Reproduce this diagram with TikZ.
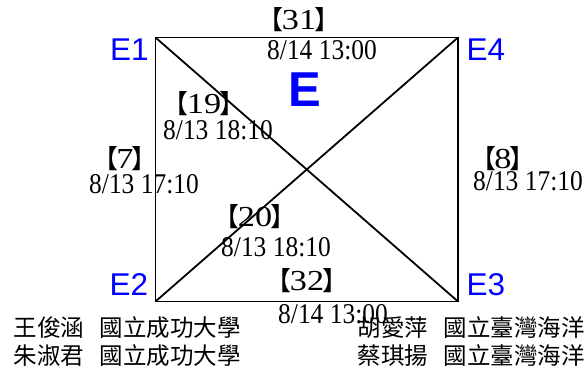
\documentclass[tikz,border=0pt]{standalone}
\usepackage{fontspec}
\setmainfont{Liberation Serif}
\newfontfamily\latn{Liberation Serif}[FakeStretch=0.89]
\newfontfamily\latw{Liberation Serif}[FakeStretch=1.18]
\newfontfamily\cjk{Noto Sans CJK TC}
\newfontfamily\ars{Liberation Sans}
\newcommand\bk[1]{{\fontsize{26}{26}\cjk\kern-13.5pt 【\kern-2pt}{\fontsize{29}{29}\latw #1}{\fontsize{26}{26}\cjk\kern-2pt 】\kern-13.5pt}}
\tikzset{
  edge/.style={line width=1.8pt, draw=black},
  elab/.style={font=\fontsize{31.5}{32}\ars, text=blue, inner sep=0pt, anchor=base west},
  tlab/.style={font=\fontsize{28.6}{29}\latn, inner sep=0pt, anchor=base},
  nlab/.style={inner sep=0pt, anchor=base},
  names/.style={font=\fontsize{23.5}{24}\cjk, inner sep=0pt, anchor=base west},
}
\begin{document}
\begin{tikzpicture}[x=1pt,y=-1pt]
\useasboundingbox (0,0) rectangle (584,385);
\coordinate (c1) at (155.5,37.5);
\coordinate (c4) at (458,37.5);
\coordinate (c2) at (155.5,301.5);
\coordinate (c3) at (458,301.5);
\draw[edge] (c1) -- (c4) -- (c3) -- (c2) -- cycle;
\draw[edge] (c1) -- (c3);
\draw[edge] (c2) -- (c4);
% corner labels
\node[elab] (e1) at (110,61) {E1};
\node[elab] (e4) at (466.5,61) {E4};
\node[elab] (e2) at (109.5,295) {E2};
\node[elab] (e3) at (466.5,295) {E3};
\node[font=\fontsize{49}{49}\ars\bfseries, text=blue, inner sep=0pt, anchor=base west] (bigE) at (288,106.7) {E};
% edge labels
\node[nlab] (n31) at (299,29.5) {\bk{31}};
\node[tlab] (t31) at (322,60) {8/14 13:00};
\node[nlab] (n19) at (204,114) {\bk{19}};
\node[tlab] (t19) at (218,140) {8/13 18:10};
\node[nlab] (n7) at (125,168.5) {\bk{7}};
\node[tlab] (t7) at (144,193.3) {8/13 17:10};
\node[nlab] (n20) at (255,226.5) {\bk{20}};
\node[tlab] (t20) at (276,256.7) {8/13 18:10};
\node[nlab] (n32) at (307,290) {\bk{32}};
\node[tlab] (t32) at (333,323) {8/14 13:00};
\node[nlab] (n8) at (503,168) {\bk{8}};
\node[tlab] (t8) at (528,190) {8/13 17:10};
% names
\node[names] (p1) at (13.3,336.5) {王俊涵\hspace{16pt}國立成功大學};
\node[names] (p2) at (13.3,364.9) {朱淑君\hspace{16pt}國立成功大學};
\node[names] (p3) at (357.3,336.5) {胡愛萍\hspace{16pt}國立臺灣海洋};
\node[names] (p4) at (357.3,364.9) {蔡琪揚\hspace{16pt}國立臺灣海洋};
\end{tikzpicture}
\end{document}
